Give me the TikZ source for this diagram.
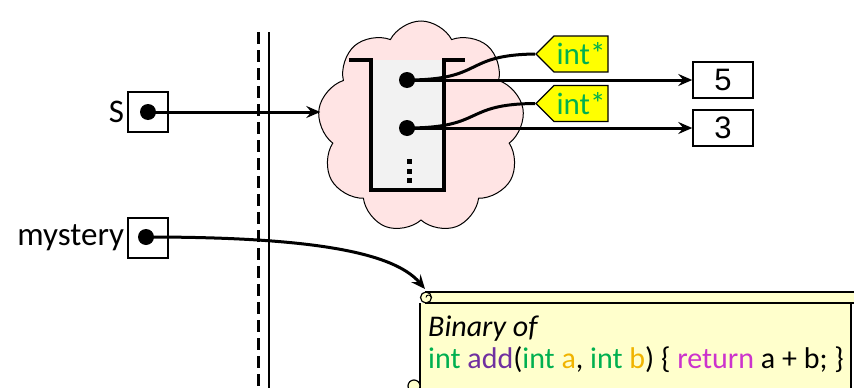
\documentclass[tikz,border=0pt]{standalone}
\usepackage{fontspec}
\setmainfont{Carlito}
\newfontfamily\arialfont{Liberation Sans}
\usetikzlibrary{shapes.symbols,arrows.meta}
\definecolor{cloudpink}{RGB}{255,228,228}
\definecolor{stackgray}{RGB}{242,242,242}
\definecolor{tagyellow}{RGB}{255,255,0}
\definecolor{codegreen}{RGB}{0,176,80}
\definecolor{codepurple}{RGB}{112,48,160}
\definecolor{codeorange}{RGB}{240,180,0}
\definecolor{codemagenta}{RGB}{204,51,204}
\definecolor{scrollyellow}{RGB}{255,255,204}
\begin{document}
\begin{tikzpicture}[x=1pt,y=-1pt,
  varbox/.style={draw, line width=1.5pt, minimum width=40pt, minimum height=40pt, inner sep=0pt},
  valbox/.style={draw, line width=1.5pt, minimum width=60pt, minimum height=36pt, inner sep=0pt, font=\arialfont\fontsize{31}{31}\selectfont},
  ptrdot/.style={circle, fill=black, inner sep=0pt, minimum size=16pt},
  ptr/.style={line width=3pt, -{Stealth[length=14pt,width=12pt,inset=5pt]}},
  tagline/.style={line width=3pt},
  tag/.style={signal, signal to=west, draw, line width=1.2pt, fill=tagyellow, text=codegreen, minimum width=72pt, minimum height=36pt, inner sep=1pt, font=\fontsize{31}{31}\selectfont},
  lbl/.style={font=\fontsize{33}{33}\selectfont, inner sep=3pt},
  code/.style={font=\fontsize{30}{30}\selectfont, inner sep=0pt}
]
\useasboundingbox (0,0) rectangle (854,388);

% boundary lines
\draw[line width=3pt, dash pattern=on 12pt off 6pt] (258,32) -- (258,388);
\draw[line width=2.8pt] (269,32) -- (269,388);

% heap cloud
\node[cloud, cloud puffs=9, cloud puff arc=125, cloud ignores aspect, draw, line width=1pt, fill=cloudpink,
      minimum width=207pt, minimum height=212pt] (heap) at (421,127) {};

% stack
\fill[stackgray] (371,60) rectangle (444,190);
\draw[line width=3.5pt] (349,60) -- (371,60) -- (371,190) -- (444,190) -- (444,60) -- (465,60);
\fill (407,159) rectangle +(5,5);
\fill (407,168.5) rectangle +(5,5);
\fill (407,178) rectangle +(5,5);

\node[ptrdot] (p1) at (407,80) {};
\node[ptrdot] (p2) at (407,128) {};

% value boxes
\node[valbox] (five) at (723,80) {5};
\node[valbox] (three) at (723,128) {3};

% tags
\node[tag] (tag1) at (581,54) {int*};
\node[tag] (tag2) at (581,103.5) {int*};

\draw[ptr] (p1.center) -- (five.west);
\draw[ptr] (p2.center) -- (three.west);
\draw[tagline] (p1.center) .. controls (485,80) and (462,55) .. (tag1.west);
\draw[tagline] (p2.center) .. controls (485,128) and (462,104) .. (tag2.west);

% variables
\node[varbox] (svar) at (148,112) {};
\node[ptrdot] (sdot) at (148,112) {};
\node[lbl, anchor=east] at (svar.west) {S};
\node[varbox] (mvar) at (148,238) {};
\node[ptrdot] (mdot) at (146,237) {};
\node[lbl, anchor=east] at (mvar.west) {mystery};

\draw[ptr] (sdot.center) -- (sdot -| heap.west);

% scroll
\begin{scope}
\clip (0,0) rectangle (854,388);
\fill[scrollyellow] (420,303) rectangle (851,392);
\draw[line width=1.2pt] (420,303) -- (420,392);
\draw[line width=1.2pt] (851,303) -- (851,392);
\filldraw[fill=scrollyellow, line width=1.2pt] (426,292) rectangle (860,303);
\filldraw[fill=scrollyellow, line width=1.2pt] (426,297.5) circle (5.5);
\draw[line width=0.9pt] (426,297.5) arc (180:360:2.5);
\filldraw[fill=scrollyellow, line width=1.2pt] (414,386) circle (6);
\end{scope}
\coordinate (scrolltip) at (425,289);
\draw[ptr] (mdot.center) .. controls (300,237) and (392,250) .. (scrolltip);

\node[code, anchor=base west] at (428,336) {\textit{Binary of}};
\node[code, anchor=base west] at (428,368) {\color{codegreen}int \color{codepurple}add\color{black}(\color{codegreen}int \color{codeorange}a\color{black}, \color{codegreen}int \color{codeorange}b\color{black}) \{ \color{codemagenta}return \color{black}a + b; \}};
\end{tikzpicture}
\end{document}
